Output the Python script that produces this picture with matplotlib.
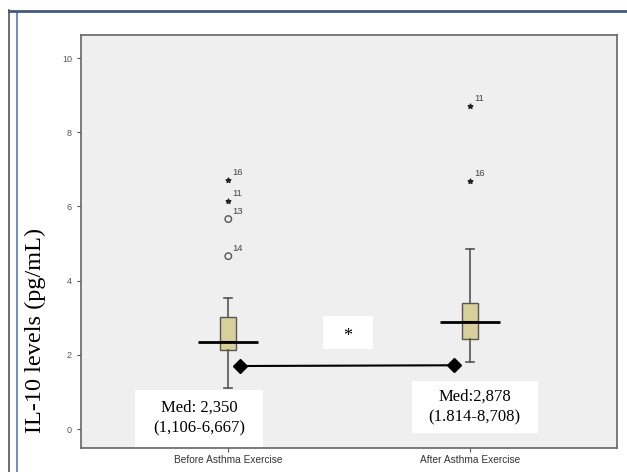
import matplotlib
matplotlib.use("Agg")
import matplotlib.pyplot as plt
from matplotlib.lines import Line2D
from matplotlib.patches import Rectangle

# data
groups = ["Before Asthma Exercise", "After Asthma Exercise"]
q1 = [2.13, 2.43]
q3 = [3.02, 3.40]
medians = [2.350, 2.878]
whisk_lo = [1.106, 1.814]
whisk_hi = [3.53, 4.85]
# outliers (circle) and extremes (star) with case numbers
out_group = [1, 1]
out_vals = [5.66, 4.66]
out_ids = ["13", "14"]
ext_group = [1, 1, 2, 2]
ext_vals = [6.71, 6.15, 8.708, 6.68]
ext_ids = ["16", "11", "11", "16"]
med_text = ["Med: 2,350\n(1,106-6,667)", "Med:2,878\n(1.814-8,708)"]
pair_y = [1.70, 1.72]
yticks = [0, 2, 4, 6, 8, 10]

fig = plt.figure(figsize=(6.27, 4.72), dpi=100)
fig.patch.set_facecolor("white")
ax = fig.add_axes([0.1292, 0.0508, 0.855, 0.875])
ax.set_facecolor("#efefef")

pos = [1, 2]
stats = []
for i in range(2):
    stats.append(dict(med=medians[i], q1=q1[i], q3=q3[i], whislo=whisk_lo[i],
                      whishi=whisk_hi[i], fliers=[]))
ax.bxp(stats, positions=pos, widths=0.066, patch_artist=True, showfliers=False,
       boxprops=dict(facecolor="#d8d09a", edgecolor="#555555", linewidth=1.0),
       whiskerprops=dict(color="#555555", linewidth=1.2),
       capprops=dict(color="#555555", linewidth=1.2),
       medianprops=dict(color="black", linewidth=1.5))

# long median markers
ax.hlines(medians, [p - 0.125 for p in pos], [p + 0.125 for p in pos],
          color="black", linewidth=2, zorder=5)

# outliers / extremes
ax.scatter(out_group, out_vals, marker="o", s=22, facecolors="none",
           edgecolors="#555555", linewidths=1.0, zorder=4)
ax.scatter(ext_group, ext_vals, marker="*", s=12, color="#222222", zorder=4)
for g, v, t in zip(out_group + ext_group, out_vals + ext_vals, out_ids + ext_ids):
    ax.annotate(t, (g, v), xytext=(3, 2), textcoords="offset points",
                ha="left", va="bottom", fontsize=6.8, color="#444444",
                family="Liberation Sans")

# paired comparison line
ax.plot([1.05, 1.935], pair_y, color="black", linewidth=1.5, zorder=5)
ax.plot([1.05, 1.935], pair_y, linestyle="none", marker="D", markersize=7,
        color="black", zorder=6)

# asterisk box
ax.add_patch(Rectangle((1.394, 2.156), 0.204, 0.89, facecolor="white",
                       edgecolor="none", zorder=3))
ax.text(1.496, 2.50, "*", ha="center", va="center", fontsize=13,
        family="Liberation Serif", zorder=6)

# median text boxes
ax.add_patch(Rectangle((0.614, -0.485), 0.531, 1.535, facecolor="white",
                       edgecolor="none", zorder=3))
ax.add_patch(Rectangle((1.759, -0.108), 0.523, 1.40, facecolor="white",
                       edgecolor="none", zorder=3))
ax.text(0.88, 0.30, med_text[0], ha="center", va="center", fontsize=12,
        family="Liberation Serif", linespacing=1.4, zorder=6)
ax.text(2.02, 0.59, med_text[1], ha="center", va="center", fontsize=12,
        family="Liberation Serif", linespacing=1.4, zorder=6)

ax.set_xlim(0.39, 2.61)
ax.set_ylim(-0.51, 10.62)
ax.set_xticks(pos)
ax.set_xticklabels(groups, fontsize=7.3, color="#333333", family="Liberation Sans")
ax.set_yticks(yticks)
ax.set_yticklabels([str(t) for t in yticks], fontsize=6.5, color="#555555",
                   family="Liberation Sans")
ax.tick_params(axis="both", length=3, width=0.8, color="#555555")
ax.tick_params(axis="x", pad=2)
for s in ax.spines.values():
    s.set_color("#666666")
    s.set_linewidth(1.2)

fig.text(0.057, 1 - 330 / 472, "IL-10 levels (pg/mL)", rotation=90,
         ha="center", va="center", fontsize=17.5, family="Liberation Serif")

# outer picture frame
fig.add_artist(Line2D([9 / 627, 9 / 627], [0, 1 - 10 / 472], color="#555555", linewidth=1.2))
fig.add_artist(Line2D([16.5 / 627, 16.5 / 627], [0, 1 - 12 / 472], color="#5a78b0", linewidth=1.2))
fig.add_artist(Line2D([9 / 627, 1], [1 - 10.5 / 472, 1 - 10.5 / 472], color="#4a5878", linewidth=2))

fig.savefig("out.png", dpi=100)
